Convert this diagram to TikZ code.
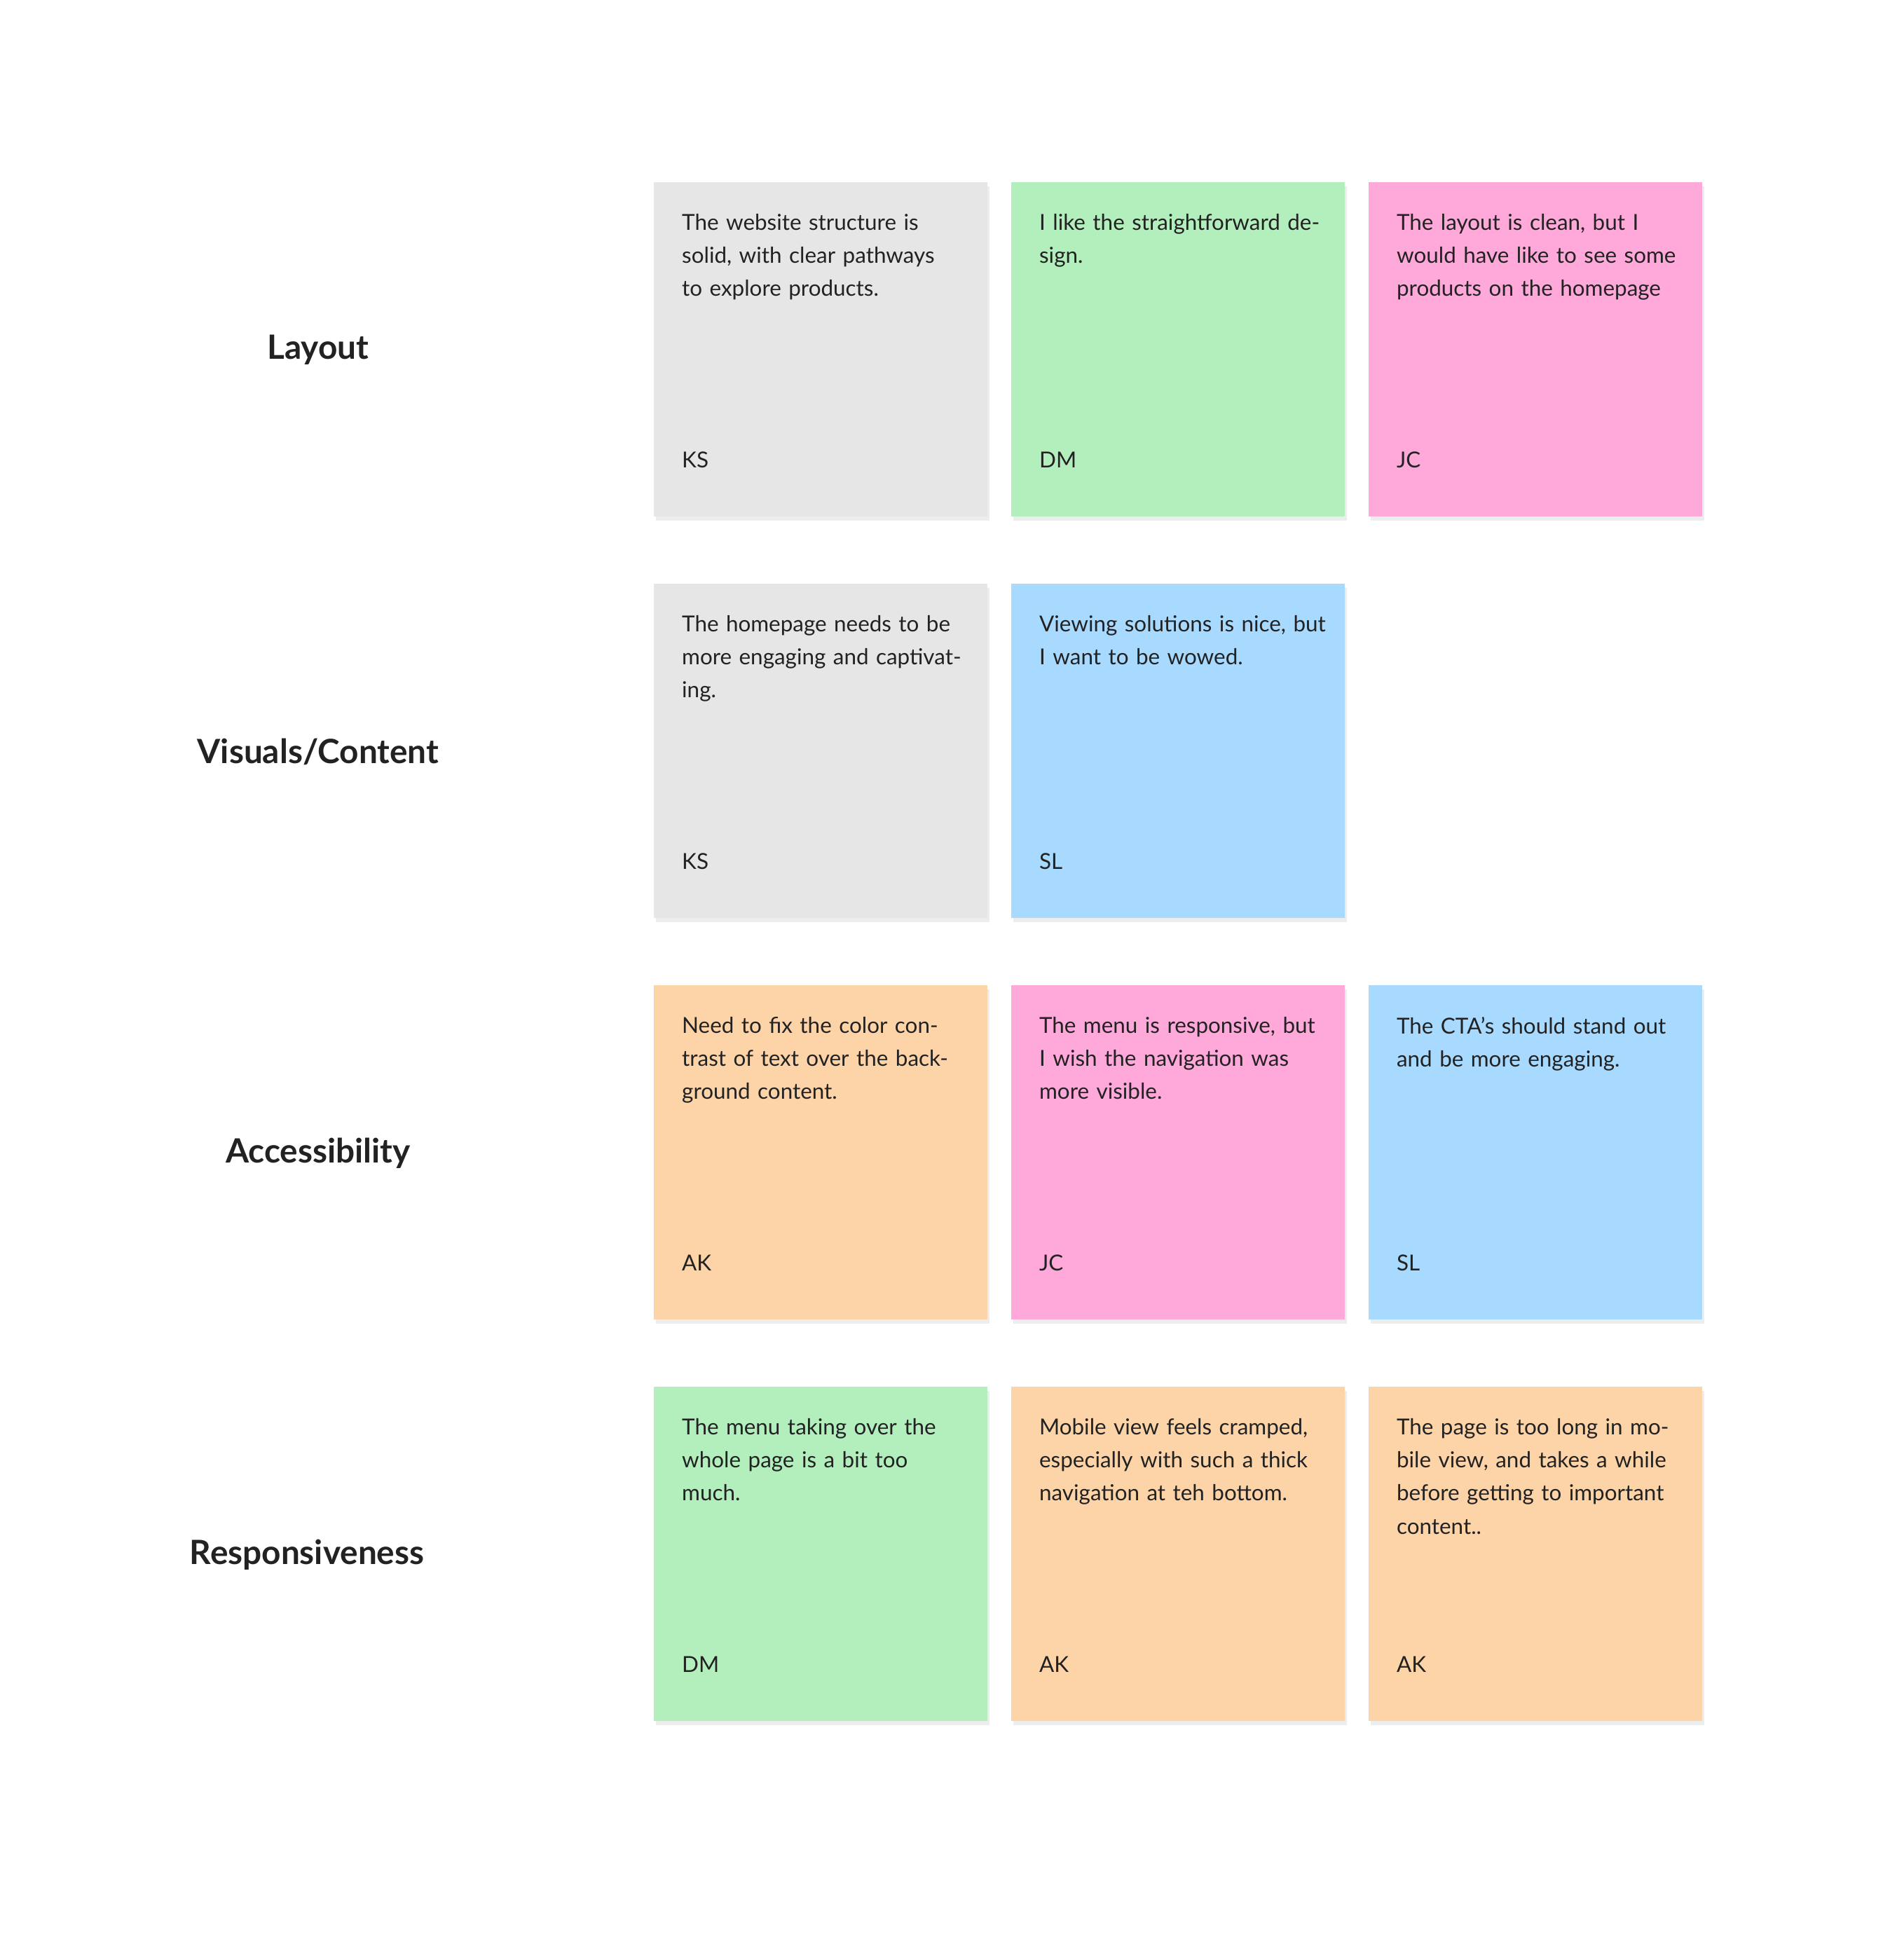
\documentclass[tikz,border=0pt]{standalone}
\usepackage{fontspec}
\setmainfont{Lato}
\usetikzlibrary{positioning}
\definecolor{notegray}{HTML}{E6E6E6}
\definecolor{notegreen}{HTML}{B3EFBD}
\definecolor{notepink}{HTML}{FFA8DA}
\definecolor{noteblue}{HTML}{A8DAFF}
\definecolor{noteorange}{HTML}{FDD3A8}
\definecolor{inktext}{HTML}{222222}
\tikzset{
  note/.style={anchor=north west, minimum width=5.44cm, minimum height=5.44cm, inner sep=0pt, fill=#1,
    drop/.style={}},
  notetext/.style={anchor=north west, text width=4.7cm, align=left, inner sep=0pt, text=inktext,
    font=\fontsize{10.2}{15.3}\selectfont},
  initials/.style={anchor=base west, inner sep=0pt, text=inktext, font=\fontsize{10.2}{12}\selectfont},
  theme/.style={inner sep=0pt, text=inktext, font=\bfseries\fontsize{15.5}{18}\selectfont}
}
\newcommand{\sticky}[5]{%
  \fill[black!7] (#2+2,#3+4) rectangle ++(272,272);
  \node[note=#4] (#1) at (#2,#3) {};
  \node[notetext] (#1t) at ([xshift=0.46cm,yshift=-0.52cm]#1.north west) {#5};
}
\begin{document}
\begin{tikzpicture}[x=0.02cm, y=-0.02cm]
\useasboundingbox (0,0) rectangle (1550,1575);
\fill[white] (0,0) rectangle (1550,1575);
% row labels
\node[theme] (L1) at (259,285) {Layout};
\node[theme] (L2) at (259,612) {Visuals/Content};
\node[theme] (L3) at (259,939) {Accessibility};
\node[theme] (L4) at (250,1266) {Responsiveness};
% layout
\sticky{A1}{532}{148}{notegray}{The website structure is solid, with clear pathways to explore products.}
\sticky{A2}{823}{148}{notegreen}{I like the straightforward design.}
\sticky{A3}{1114}{148}{notepink}{The layout is clean, but I would have like to see some products on the homepage}
\node[initials] at ([xshift=0.46cm,yshift=-4.66cm]A1.north west) {KS};
\node[initials] at ([xshift=0.46cm,yshift=-4.66cm]A2.north west) {DM};
\node[initials] at ([xshift=0.46cm,yshift=-4.66cm]A3.north west) {JC};
% visuals
\sticky{B1}{532}{475}{notegray}{The homepage needs to be more engaging and captivating.}
\sticky{B2}{823}{475}{noteblue}{Viewing solutions is nice, but I want to be wowed.}
\node[initials] at ([xshift=0.46cm,yshift=-4.66cm]B1.north west) {KS};
\node[initials] at ([xshift=0.46cm,yshift=-4.66cm]B2.north west) {SL};
% accessibility
\sticky{C1}{532}{802}{noteorange}{Need to fix the color contrast of text over the background content.}
\sticky{C2}{823}{802}{notepink}{The menu is responsive, but I wish the navigation was more visible.}
\sticky{C3}{1114}{802}{noteblue}{The CTA’s should stand out and be more engaging.}
\node[initials] at ([xshift=0.46cm,yshift=-4.66cm]C1.north west) {AK};
\node[initials] at ([xshift=0.46cm,yshift=-4.66cm]C2.north west) {JC};
\node[initials] at ([xshift=0.46cm,yshift=-4.66cm]C3.north west) {SL};
% responsiveness
\sticky{D1}{532}{1129}{notegreen}{The menu taking over the whole page is a bit too much.}
\sticky{D2}{823}{1129}{noteorange}{Mobile view feels cramped, especially with such a thick navigation at teh bottom.}
\sticky{D3}{1114}{1129}{noteorange}{The page is too long in mobile view, and takes a while before getting to important content..}
\node[initials] at ([xshift=0.46cm,yshift=-4.66cm]D1.north west) {DM};
\node[initials] at ([xshift=0.46cm,yshift=-4.66cm]D2.north west) {AK};
\node[initials] at ([xshift=0.46cm,yshift=-4.66cm]D3.north west) {AK};
\end{tikzpicture}
\end{document}
